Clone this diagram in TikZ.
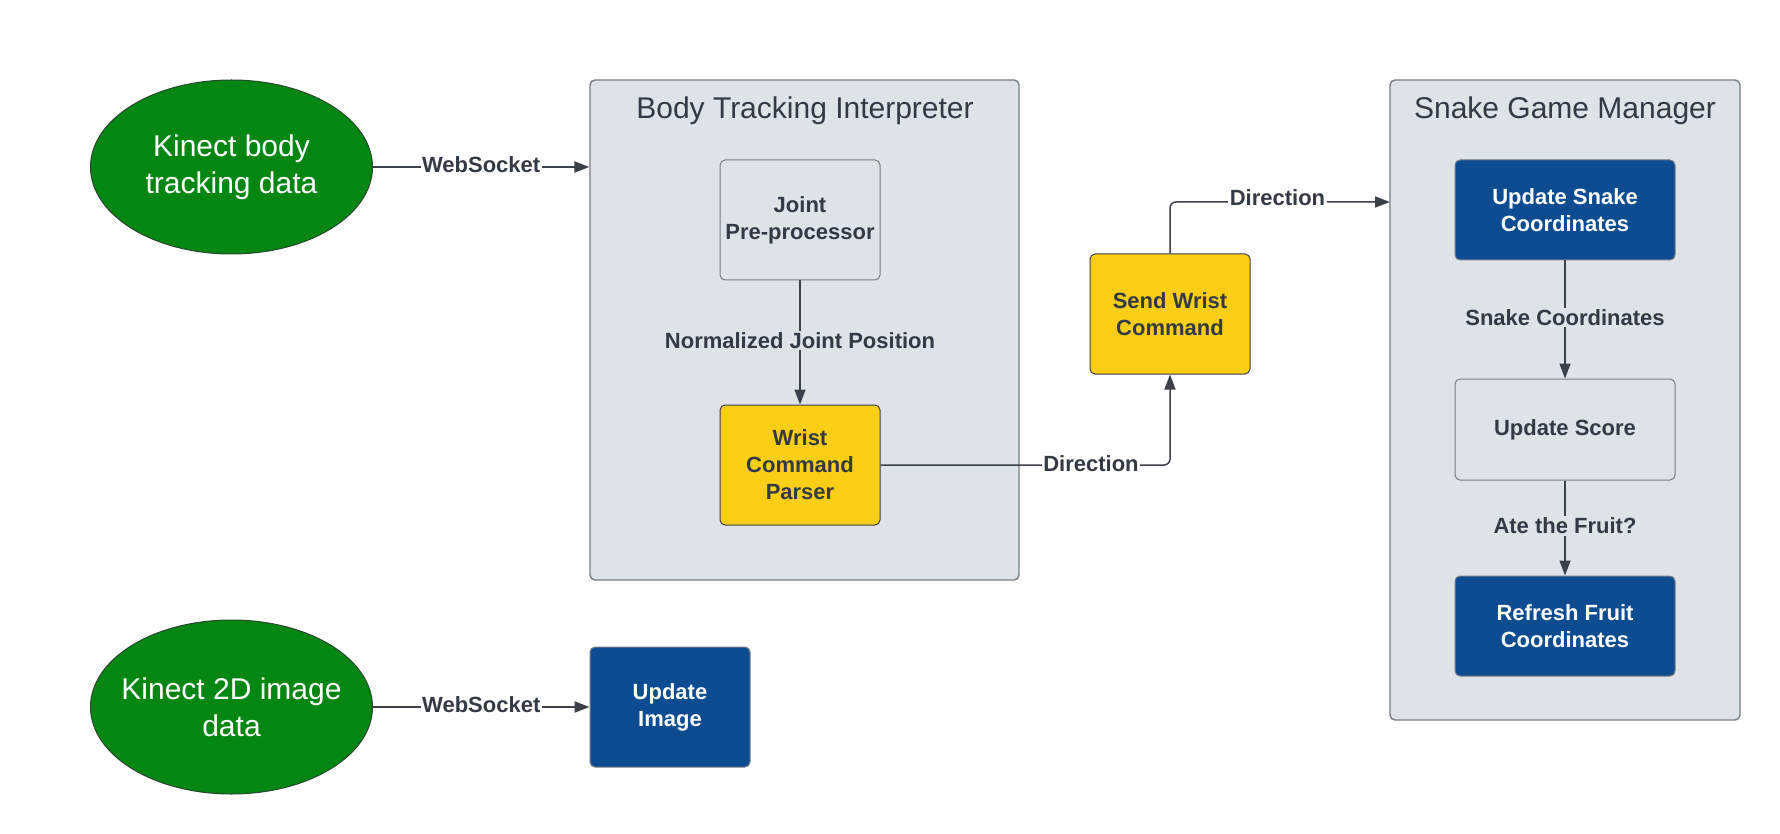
\documentclass[tikz,border=0pt]{standalone}
\usepackage{fontspec}
\setmainfont{Liberation Sans}
\usetikzlibrary{arrows.meta,shapes.geometric}
\definecolor{kgreen}{RGB}{4,135,18}
\definecolor{kgreenline}{RGB}{40,70,45}
\definecolor{cgray}{RGB}{223,226,231}
\definecolor{cgrayline}{RGB}{120,124,132}
\definecolor{kyellow}{RGB}{250,206,20}
\definecolor{kblue}{RGB}{14,76,146}
\definecolor{ktext}{RGB}{51,58,70}
\definecolor{kline}{RGB}{60,64,72}
\tikzset{
  container/.style={draw=cgrayline, fill=cgray, line width=1.4pt, rounded corners=5pt, minimum width=#1, inner sep=0pt},
  ctitle/.style={font=\fontsize{30}{36}\selectfont, text=ktext},
  source/.style={ellipse, draw=kgreenline, fill=kgreen, line width=1pt, minimum width=282pt, minimum height=174pt, inner sep=0pt},
  srctext/.style={text=white, align=center, font=\fontsize{30}{37}\selectfont},
  stepbox/.style={draw=cgrayline, rounded corners=5pt, line width=1pt, minimum width=160pt, minimum height=120pt, inner sep=0pt, align=center, font=\fontsize{22}{27}\selectfont\bfseries},
  graybox/.style={stepbox, fill=cgray, text=ktext},
  yellowbox/.style={stepbox, fill=kyellow, draw=kline, text=ktext},
  bluebox/.style={stepbox, fill=kblue, text=white},
  conn/.style={draw=kline, line width=1.5pt, -{Triangle[length=15pt,width=11pt]}},
  thickconn/.style={conn, line width=2.3pt},
  lab/.style={font=\fontsize{22}{27}\selectfont\bfseries, text=ktext, inner sep=1.5pt, yshift=2pt}
}
\begin{document}
\begin{tikzpicture}[x=1pt,y=-1pt]
\useasboundingbox (0,0) rectangle (1780,834);
\fill[white] (0,0) rectangle (1780,834);
% containers
\node[container=429pt, minimum height=500pt] (bti) at (804.5,330) {};
\node[ctitle] (btit) at (805,110.5) {Body Tracking Interpreter};
\node[container=350pt, minimum height=640pt] (sgm) at (1565,400) {};
\node[ctitle] (sgmt) at (1565,110.5) {Snake Game Manager};
% sources
\node[source] (k1) at (231.5,167) {};
\node[srctext] (k1t) at (k1.center) {Kinect body\\tracking data};
\node[source] (k2) at (231.5,707) {};
\node[srctext] (k2t) at (k2.center) {Kinect 2D image\\data};
% boxes
\node[graybox] (jp) at (800,220) {Joint\\Pre-processor};
\node[yellowbox] (wcp) at (800,465) {Wrist\\Command\\Parser};
\node[yellowbox] (swc) at (1170,314) {Send Wrist\\Command};
\node[bluebox] (ui) at (670,707) {Update\\Image};
\node[bluebox, minimum width=220pt, minimum height=100pt] (usc) at (1565,210) {Update Snake\\Coordinates};
\node[graybox, minimum width=220pt, minimum height=101pt] (us) at (1565,429.5) {Update Score};
\node[bluebox, minimum width=220pt, minimum height=100pt] (rf) at (1565,626) {Refresh Fruit\\Coordinates};
% connectors
\draw[thickconn] (k1.east) -- node[lab, fill=white] {WebSocket} (k1.east -| bti.west);
\draw[thickconn] (k2.east) -- node[lab, fill=white] {WebSocket} (k2.east -| ui.west);
\draw[conn] (jp.south) -- node[lab, fill=cgray] {Normalized Joint Position} (wcp.north);
\draw[conn, rounded corners=6pt] (wcp.east) -| (swc.south);
\node[lab, fill=white] (dirb) at (1091,465.5) {Direction};
\coordinate (dirin) at (1390,202);
\draw[conn, rounded corners=6pt] (swc.north) |- (dirin);
\node[lab, fill=white] (dirt) at (1277.5,200) {Direction};
\draw[conn] (usc.south) -- node[lab, fill=cgray] {Snake Coordinates} (us.north);
\draw[conn] (us.south) -- node[lab, fill=cgray] {Ate the Fruit?} (rf.north);
\end{tikzpicture}
\end{document}
